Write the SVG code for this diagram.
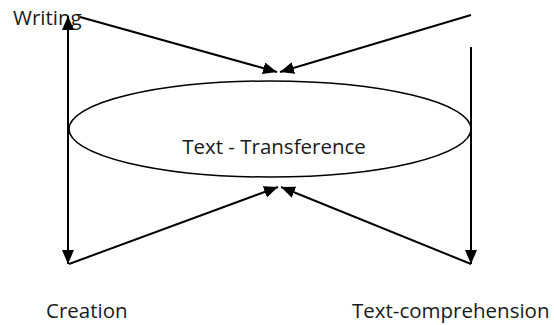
<svg xmlns="http://www.w3.org/2000/svg" width="554" height="325" viewBox="0 0 554 325">
  <style>
    .label { font-family: "Open Sans", "Liberation Sans", sans-serif; font-size: 20.5px; fill: #1a1a1a; }
    .edge { stroke: #000; stroke-width: 2; fill: none; }
    .shape { stroke: #000; stroke-width: 1.5; fill: #fff; }
  </style>
  <defs>
    <marker id="head" viewBox="0 0 14 12" refX="14" refY="6" markerWidth="14" markerHeight="12" markerUnits="userSpaceOnUse" orient="auto-start-reverse">
      <path d="M0,0 L14,6 L0,12 Z" fill="#000"/>
    </marker>
  </defs>

  <rect width="554" height="325" fill="#fff"/>

  <g id="transference">
    <ellipse class="shape" cx="270" cy="129" rx="201" ry="48"/>
    <text class="label" x="274" y="154" text-anchor="middle">Text - Transference</text>
  </g>

  <g id="writing">
    <text class="label" x="13" y="25" font-size="21">Writing</text>
  </g>

  <g id="creation">
    <text class="label" x="46" y="318">Creation</text>
  </g>

  <g id="comprehension">
    <text class="label" x="352" y="318">Text-comprehension</text>
  </g>

  <g id="connectors">
    <line class="edge" x1="68" y1="140" x2="68" y2="16" marker-end="url(#head)"/>
    <line class="edge" x1="68" y1="140" x2="68" y2="264" marker-end="url(#head)"/>
    <line class="edge" x1="80" y1="17" x2="277" y2="72" marker-end="url(#head)"/>
    <line class="edge" x1="471" y1="15" x2="280" y2="72" marker-end="url(#head)"/>
    <line class="edge" x1="471" y1="47" x2="471" y2="264" marker-end="url(#head)"/>
    <line class="edge" x1="69" y1="264" x2="278" y2="187" marker-end="url(#head)"/>
    <line class="edge" x1="471" y1="264" x2="281" y2="187" marker-end="url(#head)"/>
  </g>
</svg>
